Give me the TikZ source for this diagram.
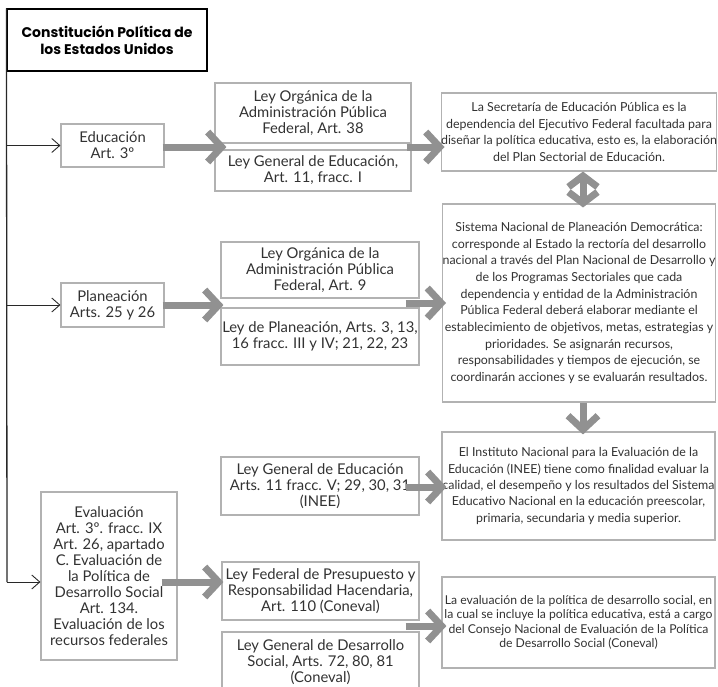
\documentclass[tikz,border=0pt]{standalone}
\usepackage{fontspec}
\setmainfont{Lato}
\newfontfamily\titlefont{Poppins}
\usetikzlibrary{arrows.meta,calc}
\definecolor{boxgray}{RGB}{178,178,178}
\definecolor{arrgray}{RGB}{145,145,145}
\definecolor{txt}{RGB}{50,50,50}
\definecolor{linec}{RGB}{40,40,40}
\tikzset{
  base/.style={draw=boxgray, line width=1.1pt, text=txt, align=center, inner sep=0pt},
  lbox/.style={base, font=\fontsize{14.8}{16}\selectfont},
  rbox/.style={base, font=\fontsize{12.4}{16.7}\selectfont},
  tbox/.style={draw=black, line width=1.1pt, text=black, align=center, inner sep=0pt,
    font=\titlefont\bfseries\fontsize{14}{17.5}\selectfont},
  garrow/.style={draw=arrgray, line width=7pt, -{Straight Barb[length=14pt,width=30pt,line width=7pt]}},
  gdarrow/.style={draw=arrgray, line width=7pt,
    {Straight Barb[length=11pt,width=29pt,line width=7pt]}-{Straight Barb[length=11pt,width=29pt,line width=7pt]}},
  tarrow/.style={draw=linec, line width=0.9pt, -{Straight Barb[length=8pt,width=14pt,line width=0.9pt]}},
  vline/.style={draw=linec, line width=1.3pt}
}
\begin{document}
\begin{tikzpicture}[x=1pt,y=-1pt]
\useasboundingbox (0,0) rectangle (718,686);
% title
\node[tbox, minimum width=200pt, minimum height=62pt] (title) at (107,40)
  {Constitución Política de\\los Estados Unidos};
% left boxes
\node[lbox, minimum width=103pt, minimum height=43pt] (edu) at (112.5,145.5)
  {Educación\\Art. 3º};
\node[lbox, minimum width=103pt, minimum height=44pt] (plan) at (112.5,305)
  {Planeación\\Arts. 25 y 26};
\node[lbox, minimum width=136pt, minimum height=168pt] (eval) at (109,576)
  {Evaluación\\Art. 3º. fracc. IX\\Art. 26, apartado\\C. Evaluación de\\la Política de\\Desarrollo Social\\Art. 134.\\Evaluación de los\\recursos federales};
% middle boxes
\node[lbox, minimum width=196pt, minimum height=60pt] (lo38) at (313,113)
  {Ley Orgánica de la\\Administración Pública\\Federal, Art. 38};
\node[lbox, minimum width=196pt, minimum height=41pt] (lge) at (313,170.5)
  {Ley General de Educación,\\Art. 11, fracc. I};
\node[lbox, minimum width=198pt, minimum height=56pt] (lo9) at (320,270)
  {Ley Orgánica de la\\Administración Pública\\Federal, Art. 9};
\node[lbox, minimum width=198pt, minimum height=57pt] (lp) at (320,336.5)
  {Ley de Planeación, Arts. 3, 13,\\16 fracc. III y IV; 21, 22, 23};
\node[lbox, minimum width=198pt, minimum height=58pt] (lgeinee) at (320,486)
  {Ley General de Educación\\Arts. 11 fracc. V; 29, 30, 31\\(INEE)};
\node[lbox, minimum width=197pt, minimum height=58pt] (lf) at (320.5,591)
  {Ley Federal de Presupuesto y\\Responsabilidad Hacendaria,\\Art. 110 (Coneval)};
\node[lbox, minimum width=197pt, minimum height=60pt] (lgds) at (320.5,662)
  {Ley General de Desarrollo\\Social, Arts. 72, 80, 81\\(Coneval)};
% right boxes
\node[rbox, minimum width=272pt, minimum height=78pt] (sep) at (579,132)
  {La Secretaría de Educación Pública es la\\dependencia del Ejecutivo Federal facultada para\\diseñar la política educativa, esto es, la elaboración\\del Plan Sectorial de Educación.};
\node[rbox, minimum width=272pt, minimum height=198pt] (sis) at (579,303)
  {Sistema Nacional de Planeación Democrática:\\corresponde al Estado la rectoría del desarrollo\\nacional a través del Plan Nacional de Desarrollo y\\de los Programas Sectoriales que cada\\dependencia y entidad de la Administración\\Pública Federal deberá elaborar mediante el\\establecimiento de objetivos, metas, estrategias y\\prioridades. Se asignarán recursos,\\responsabilidades y tiempos de ejecución, se\\coordinarán acciones y se evaluarán resultados.};
\node[rbox, font=\fontsize{12.4}{16.3}\selectfont, minimum width=273pt, minimum height=108pt] (inee) at (578.5,486)
  {El Instituto Nacional para la Evaluación de la\\Educación (INEE) tiene como finalidad evaluar la\\calidad, el desempeño y los resultados del Sistema\\Educativo Nacional en la educación preescolar,\\primaria, secundaria y media superior.};
\node[rbox, font=\fontsize{12.2}{14.5}\selectfont, minimum width=273pt, minimum height=91pt] (con) at (578.5,622.5)
  {La evaluación de la política de desarrollo social, en\\la cual se incluye la política educativa, está a cargo\\del Consejo Nacional de Evaluación de la Política\\de Desarrollo Social (Coneval)};
% vertical line and thin arrows
\coordinate (vbot) at (7,582);
\draw[vline] (title.north west) -- (vbot);
\draw[tarrow] (title.west |- edu.west) -- (edu.west);
\draw[tarrow] (title.west |- plan.west) -- (plan.west);
\draw[tarrow] (vbot) -- (vbot -| eval.west);
% gray arrows
\draw[garrow] ($(edu.east)+(-2,1.5)$) -- ($(lo38.west |- edu.east)+(12,1.5)$);
\draw[garrow] ($(lo38.east |- edu.east)+(-5,1.5)$) -- ($(sep.west |- edu.east)+(4,1.5)$);
\draw[garrow] ($(plan.east)+(-2,0)$) -- ($(lo9.west |- plan.east)+(3,0)$);
\draw[garrow] ($(lo9.east)+(-14,33)$) -- ($(sis.west |- sis.center)+(4,0)$);
\draw[gdarrow] ($(sep.south)+(4,0)$) -- ($(sis.north)+(4,4)$);
\draw[garrow] ($(sis.south)+(4,0)$) -- ($(inee.north)+(4.5,3)$);
\draw[garrow] ($(lgeinee.east)+(-14,1)$) -- ($(inee.west |- lgeinee.east)+(5,1)$);
\draw[garrow] ($(eval.east)+(-16,6)$) -- ($(lf.west |- eval.east)+(2,6)$);
\draw[garrow] ($(lf.east)+(-14,35)$) -- ($(con.west |- lf.east)+(5,35)$);
\end{tikzpicture}
\end{document}
